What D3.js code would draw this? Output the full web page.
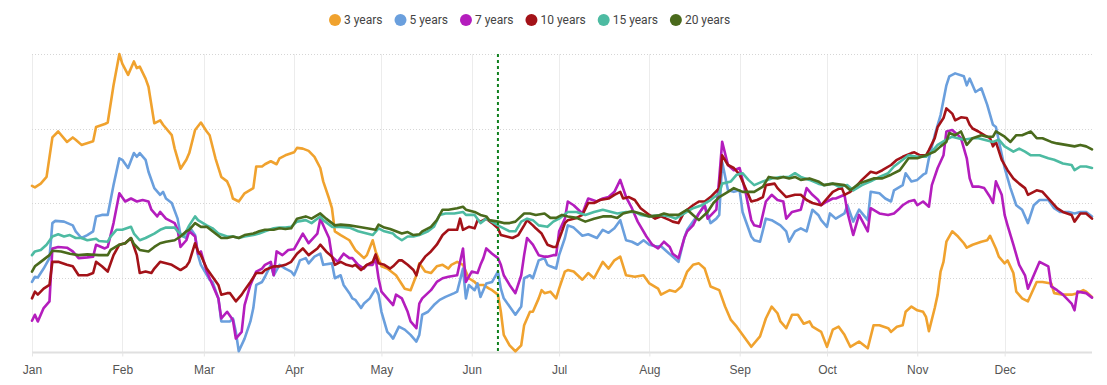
<!DOCTYPE html>
<html>
<head>
<meta charset="utf-8">
<script src="https://cdn.jsdelivr.net/npm/d3@7"></script>
<style>
  html, body { margin: 0; padding: 0; background: #fff; }
  svg { display: block; font-family: Roboto, "Liberation Sans", Arial, sans-serif; }
  .grid-h line { stroke: #d6d6d6; stroke-dasharray: 1 2; }
  .grid-v line { stroke: #ececec; }
  .x-axis path { stroke: #e0e0e0; }
  .x-axis line { stroke: #e6e6e6; }
  .x-axis text { fill: #555; font-size: 12px; }
  .legend text { fill: #444; font-size: 12px; }
</style>
</head>
<body>
<div id="chart"></div>
<script>
// ---- data (day of year 0 = Jan 1, value on a 0–4 scale) ----
var categories = ["3 years", "5 years", "7 years", "10 years", "15 years", "20 years"];
var colors = ["#F0A22E", "#6A9FDD", "#B41DBD", "#A31218", "#4DBBA2", "#4A6A1C"];
var monthLabels = ["Jan", "Feb", "Mar", "Apr", "May", "Jun", "Jul", "Aug", "Sep", "Oct", "Nov", "Dec"];
var markerDay = 160;

var s3y = [[0,2.23],[1,2.21],[3,2.26],[5,2.35],[7,2.88],[9,2.96],[12,2.82],[14,2.88],[15,2.85],[17,2.78],[21,2.83],[22,3.02],[25,3.06],[26,3.08],[28,3.58],[30,4.0],[31,3.87],[33,3.72],[35,3.90],[36,3.81],[37,3.83],[39,3.67],[40,3.56],[42,3.07],[44,3.11],[45,3.05],[48,2.91],[49,2.73],[51,2.46],[53,2.58],[54,2.67],[56,2.98],[58,3.08],[60,2.96],[61,2.91],[63,2.60],[65,2.35],[67,2.29],[68,2.20],[69,2.06],[71,2.02],[73,2.13],[76,2.20],[77,2.49],[79,2.49],[80,2.52],[82,2.56],[84,2.52],[85,2.60],[87,2.64],[90,2.68],[91,2.74],[93,2.73],[95,2.70],[97,2.62],[99,2.47],[100,2.29],[102,2.06],[103,1.93],[104,1.62],[106,1.57],[109,1.50],[111,1.37],[114,1.26],[115,1.30],[117,1.50],[118,1.35],[120,1.15],[122,1.12],[124,1.06],[125,1.03],[128,0.85],[130,0.83],[132,1.03],[133,1.19],[135,1.08],[137,1.06],[139,1.15],[141,1.17],[143,1.12],[144,1.17],[146,1.21],[148,1.17],[150,0.99],[152,0.94],[153,0.90],[155,0.90],[157,0.85],[158,0.83],[160,0.77],[161,0.54],[162,0.23],[164,0.09],[166,0.01],[168,0.09],[169,0.36],[171,0.54],[172,0.54],[174,0.72],[175,0.83],[176,0.79],[178,0.81],[180,0.72],[181,0.85],[183,1.08],[184,1.10],[186,1.08],[189,0.97],[191,1.06],[193,0.99],[196,1.21],[198,1.12],[200,1.23],[202,1.28],[204,1.03],[207,1.01],[210,1.03],[212,0.92],[215,0.85],[216,0.77],[219,0.83],[221,0.81],[223,0.88],[225,1.08],[227,1.17],[229,1.19],[231,1.12],[233,0.88],[236,0.83],[238,0.61],[240,0.43],[242,0.34],[244,0.23],[247,0.07],[250,0.21],[252,0.45],[254,0.61],[256,0.52],[257,0.41],[259,0.32],[261,0.50],[263,0.50],[265,0.38],[267,0.41],[268,0.34],[271,0.27],[273,0.07],[275,0.30],[277,0.34],[279,0.23],[281,0.07],[284,0.14],[287,0.05],[289,0.36],[291,0.36],[294,0.32],[295,0.27],[297,0.34],[299,0.36],[300,0.54],[302,0.61],[304,0.56],[306,0.54],[307,0.47],[308,0.28],[310,0.59],[311,0.77],[312,1.08],[313,1.21],[314,1.48],[316,1.62],[318,1.55],[320,1.46],[321,1.40],[323,1.44],[326,1.48],[328,1.50],[329,1.56],[331,1.39],[332,1.28],[334,1.19],[335,1.23],[337,1.06],[338,0.81],[340,0.72],[342,0.68],[345,0.94],[347,0.94],[350,0.92],[351,0.79],[354,0.77],[357,0.77],[359,0.79],[361,0.83],[362,0.81],[364,0.74]];

var s5y = [[0,0.94],[1,1.01],[2,1.00],[4,1.12],[6,1.26],[7,1.73],[8,1.76],[11,1.75],[14,1.70],[15,1.62],[17,1.53],[19,1.57],[21,1.62],[22,1.82],[24,1.84],[26,1.84],[28,2.24],[30,2.60],[31,2.58],[33,2.47],[35,2.67],[36,2.62],[37,2.67],[39,2.58],[40,2.42],[42,2.20],[44,2.11],[45,2.15],[46,2.06],[48,2.00],[50,1.79],[51,1.57],[53,1.53],[54,1.68],[56,1.57],[57,1.30],[58,1.17],[61,0.97],[62,0.94],[64,0.72],[65,0.41],[68,0.41],[69,0.45],[70,0.27],[71,0.01],[73,0.18],[75,0.41],[76,0.59],[77,0.90],[79,0.94],[80,1.01],[82,1.17],[83,1.03],[85,1.17],[87,1.12],[89,1.08],[90,1.03],[91,1.12],[92,1.23],[94,1.26],[95,1.19],[97,1.28],[99,1.32],[100,1.17],[103,1.19],[104,0.99],[106,1.03],[107,0.90],[109,0.79],[110,0.72],[111,0.70],[113,0.59],[114,0.65],[116,0.72],[118,0.85],[119,0.77],[120,0.54],[122,0.27],[123,0.23],[124,0.18],[126,0.34],[128,0.30],[130,0.23],[132,0.14],[133,0.23],[134,0.50],[136,0.54],[138,0.63],[140,0.70],[142,0.74],[145,0.79],[146,0.81],[148,1.12],[149,0.72],[150,0.90],[152,0.83],[153,0.92],[154,0.74],[156,0.92],[158,0.94],[160,1.08],[161,0.85],[162,0.72],[164,0.61],[166,0.50],[168,0.61],[169,0.99],[171,1.03],[172,0.99],[174,1.23],[176,1.26],[177,1.17],[178,1.15],[180,1.12],[181,1.30],[183,1.53],[184,1.70],[186,1.67],[189,1.56],[191,1.58],[194,1.53],[196,1.64],[198,1.60],[200,1.66],[202,1.77],[204,1.50],[206,1.48],[208,1.44],[210,1.50],[212,1.44],[214,1.42],[216,1.42],[218,1.35],[220,1.28],[222,1.21],[224,1.53],[225,1.64],[227,1.75],[229,1.86],[231,1.97],[233,1.73],[235,1.79],[236,1.84],[237,2.55],[239,2.17],[241,2.15],[243,2.17],[244,1.88],[247,1.55],[248,1.50],[250,1.48],[252,1.79],[254,1.77],[257,1.70],[259,1.62],[260,1.48],[262,1.62],[264,1.66],[266,1.62],[268,1.91],[270,1.84],[271,1.77],[273,1.68],[274,1.86],[276,1.79],[279,1.86],[280,1.97],[282,1.75],[284,1.91],[287,1.77],[288,2.15],[291,2.13],[293,2.06],[295,2.02],[296,2.17],[299,2.24],[300,2.40],[302,2.29],[304,2.31],[306,2.38],[307,2.40],[308,2.60],[310,2.91],[312,3.18],[314,3.58],[315,3.70],[317,3.74],[320,3.70],[321,3.58],[322,3.67],[324,3.49],[326,3.54],[328,3.32],[330,3.05],[331,3.02],[334,2.47],[336,2.20],[338,1.97],[340,1.91],[342,1.73],[344,1.97],[346,2.04],[349,2.04],[351,1.93],[353,1.88],[356,1.88],[358,1.86],[360,1.88],[362,1.88],[364,1.82]];

var s7y = [[0,0.42],[1,0.50],[2,0.41],[4,0.59],[6,0.68],[7,1.39],[9,1.41],[12,1.40],[14,1.35],[16,1.26],[19,1.27],[21,1.28],[22,1.44],[25,1.39],[26,1.41],[28,1.73],[30,2.13],[32,2.02],[34,2.06],[36,2.02],[38,2.04],[40,2.02],[41,1.91],[43,1.82],[44,1.88],[46,1.79],[49,1.73],[50,1.64],[51,1.41],[53,1.50],[54,1.62],[56,1.55],[57,1.32],[58,1.35],[60,1.08],[62,0.90],[64,0.72],[65,0.45],[67,0.54],[69,0.43],[70,0.18],[72,0.27],[73,0.63],[75,0.90],[77,1.08],[79,1.12],[80,1.17],[82,1.21],[83,1.03],[84,1.35],[86,1.30],[88,1.37],[90,1.38],[93,1.59],[95,1.46],[98,1.59],[99,1.79],[100,1.70],[102,1.53],[103,1.28],[105,1.21],[107,1.32],[109,1.26],[110,1.26],[112,1.17],[114,1.12],[115,1.17],[117,1.17],[118,1.26],[119,0.99],[120,0.81],[122,0.72],[124,0.63],[125,0.77],[127,0.72],[129,0.54],[130,0.41],[132,0.32],[133,0.65],[134,0.72],[137,0.83],[139,0.94],[141,0.99],[143,1.01],[146,1.03],[148,1.39],[149,0.94],[151,1.08],[153,1.06],[154,1.17],[155,1.26],[156,1.39],[158,1.32],[160,1.26],[161,1.17],[162,1.03],[164,0.90],[166,0.79],[168,1.03],[169,1.30],[170,1.53],[172,1.44],[174,1.30],[176,1.28],[177,1.28],[179,1.30],[180,1.30],[181,1.62],[183,1.79],[184,2.02],[186,1.97],[189,1.86],[191,2.06],[194,2.02],[196,2.06],[198,2.08],[200,2.15],[202,2.31],[204,2.08],[206,1.93],[208,1.75],[211,1.55],[213,1.44],[215,1.39],[217,1.48],[219,1.41],[220,1.32],[222,1.26],[224,1.53],[225,1.62],[227,1.70],[229,1.86],[231,1.97],[232,1.79],[235,1.91],[236,2.33],[237,2.82],[239,2.51],[241,2.44],[243,2.47],[245,2.15],[247,1.77],[248,1.70],[250,1.68],[252,2.02],[254,2.11],[256,2.04],[258,2.02],[259,1.79],[261,1.88],[264,1.91],[266,2.20],[268,2.11],[270,2.04],[271,1.97],[273,2.02],[275,2.06],[276,2.06],[279,2.11],[280,1.88],[282,1.57],[284,1.84],[287,1.62],[288,1.93],[291,1.86],[294,1.84],[296,1.86],[298,1.93],[299,1.97],[301,2.02],[303,2.04],[304,1.97],[306,2.02],[308,1.95],[309,2.24],[311,2.47],[313,2.64],[314,2.96],[316,2.98],[318,2.91],[319,2.87],[321,2.60],[322,2.33],[323,2.22],[325,2.22],[327,2.20],[329,2.08],[330,2.00],[331,2.29],[333,2.11],[334,1.84],[335,1.70],[337,1.44],[339,1.17],[341,1.03],[342,0.85],[344,1.03],[346,1.21],[347,1.19],[349,1.15],[350,0.88],[352,0.83],[354,0.77],[357,0.65],[358,0.56],[359,0.81],[362,0.79],[364,0.73]];

var s10y = [[0,0.72],[1,0.81],[2,0.77],[4,0.85],[6,0.90],[7,1.21],[9,1.21],[12,1.17],[14,1.15],[16,1.03],[19,1.03],[21,1.06],[22,1.21],[24,1.15],[26,1.08],[28,1.30],[30,1.44],[32,1.46],[34,1.53],[36,1.30],[37,1.06],[39,1.08],[41,1.06],[42,1.12],[44,1.21],[46,1.19],[48,1.17],[51,1.10],[53,1.15],[54,1.21],[56,1.46],[57,1.35],[58,1.30],[60,1.12],[62,1.01],[64,0.90],[65,0.77],[67,0.79],[68,0.79],[70,0.68],[72,0.77],[73,0.83],[75,0.94],[77,1.06],[79,1.06],[80,1.10],[83,1.15],[85,1.15],[87,1.17],[89,1.21],[91,1.32],[93,1.39],[95,1.30],[98,1.39],[99,1.44],[101,1.35],[103,1.28],[104,1.17],[106,1.21],[108,1.17],[110,1.15],[111,1.17],[113,1.10],[115,1.17],[117,1.21],[118,1.31],[119,1.19],[121,1.17],[123,1.12],[124,1.15],[126,1.23],[127,1.23],[129,1.17],[131,1.10],[132,1.03],[133,1.17],[135,1.28],[137,1.35],[139,1.44],[141,1.57],[143,1.64],[146,1.64],[147,1.79],[148,1.64],[150,1.68],[152,1.66],[153,1.77],[154,1.75],[156,1.79],[158,1.73],[160,1.66],[161,1.57],[163,1.55],[165,1.53],[167,1.57],[169,1.70],[170,1.77],[172,1.70],[173,1.66],[175,1.59],[177,1.44],[179,1.41],[180,1.41],[182,1.62],[183,1.73],[184,1.77],[187,1.80],[189,1.84],[191,2.00],[193,2.00],[195,2.04],[198,2.06],[200,2.11],[202,2.15],[203,2.06],[205,2.08],[207,2.04],[209,1.93],[212,1.84],[214,1.79],[216,1.82],[219,1.77],[220,1.75],[222,1.73],[224,1.88],[227,1.97],[229,2.02],[231,2.02],[233,2.08],[236,2.20],[237,2.64],[239,2.51],[241,2.47],[243,2.38],[245,2.20],[247,2.02],[249,2.04],[251,2.08],[252,2.24],[255,2.26],[256,2.20],[259,2.08],[262,2.11],[264,2.11],[266,2.04],[268,2.00],[271,1.97],[273,2.06],[275,2.15],[278,2.21],[279,2.11],[281,2.15],[283,2.22],[285,2.31],[288,2.42],[290,2.40],[292,2.44],[295,2.51],[297,2.58],[299,2.62],[302,2.67],[303,2.68],[305,2.64],[307,2.64],[308,2.71],[310,2.87],[311,3.02],[313,3.14],[314,3.27],[316,3.20],[317,3.11],[319,3.15],[321,3.14],[322,3.05],[323,3.00],[325,2.96],[327,2.91],[329,2.87],[330,2.76],[331,2.82],[333,2.58],[335,2.44],[337,2.33],[339,2.26],[341,2.20],[342,2.11],[345,2.17],[347,2.15],[350,2.02],[352,1.93],[354,1.88],[357,1.84],[358,1.75],[360,1.86],[362,1.86],[364,1.79]];

var s15y = [[0,1.30],[1,1.35],[3,1.37],[5,1.44],[7,1.55],[9,1.58],[11,1.55],[13,1.57],[15,1.53],[17,1.53],[19,1.50],[22,1.52],[23,1.49],[26,1.48],[27,1.55],[29,1.64],[31,1.64],[34,1.68],[35,1.59],[37,1.50],[39,1.53],[42,1.59],[44,1.64],[46,1.67],[49,1.67],[50,1.62],[52,1.55],[54,1.70],[56,1.82],[57,1.77],[60,1.70],[62,1.66],[64,1.59],[67,1.55],[69,1.55],[71,1.53],[73,1.55],[76,1.57],[78,1.59],[80,1.62],[83,1.66],[85,1.67],[87,1.67],[89,1.68],[91,1.75],[94,1.77],[96,1.73],[99,1.82],[100,1.77],[103,1.68],[106,1.68],[109,1.67],[112,1.62],[115,1.59],[117,1.57],[119,1.66],[121,1.62],[124,1.59],[125,1.55],[127,1.50],[129,1.55],[131,1.55],[133,1.57],[136,1.62],[138,1.68],[140,1.84],[142,1.86],[145,1.86],[148,1.88],[149,1.84],[152,1.84],[154,1.73],[156,1.79],[157,1.77],[160,1.70],[162,1.66],[164,1.62],[166,1.62],[168,1.75],[170,1.79],[172,1.77],[174,1.70],[177,1.68],[179,1.75],[181,1.79],[184,1.88],[187,1.88],[190,1.84],[193,1.88],[196,1.91],[199,1.88],[201,1.86],[204,1.88],[207,1.88],[209,1.84],[212,1.82],[216,1.84],[219,1.82],[221,1.79],[224,1.86],[227,1.93],[230,1.97],[233,2.04],[236,2.13],[237,2.26],[240,2.29],[242,2.38],[244,2.40],[246,2.31],[248,2.24],[251,2.29],[254,2.33],[257,2.35],[260,2.35],[262,2.40],[264,2.35],[267,2.31],[270,2.26],[272,2.24],[275,2.26],[277,2.22],[280,2.24],[282,2.17],[285,2.24],[288,2.29],[291,2.35],[294,2.40],[296,2.49],[299,2.58],[301,2.64],[304,2.62],[307,2.62],[309,2.69],[311,2.78],[314,2.85],[316,2.89],[318,2.87],[320,2.85],[323,2.87],[325,2.87],[327,2.85],[330,2.82],[332,2.85],[334,2.76],[337,2.69],[339,2.73],[341,2.69],[343,2.64],[346,2.64],[349,2.60],[351,2.58],[354,2.53],[357,2.51],[358,2.44],[360,2.49],[362,2.49],[364,2.47]];

var s20y = [[0,1.08],[1,1.15],[3,1.21],[6,1.30],[7,1.36],[10,1.35],[13,1.32],[16,1.30],[19,1.31],[23,1.30],[26,1.30],[27,1.37],[30,1.44],[32,1.46],[34,1.53],[35,1.45],[37,1.37],[40,1.35],[42,1.41],[44,1.46],[46,1.48],[49,1.50],[51,1.55],[53,1.62],[54,1.64],[56,1.73],[58,1.68],[60,1.68],[62,1.62],[65,1.53],[67,1.53],[69,1.55],[71,1.53],[73,1.57],[76,1.59],[78,1.62],[80,1.64],[83,1.64],[85,1.66],[87,1.65],[89,1.66],[91,1.79],[94,1.82],[96,1.79],[99,1.86],[101,1.79],[104,1.70],[106,1.71],[109,1.70],[112,1.68],[115,1.66],[118,1.64],[119,1.71],[121,1.67],[123,1.65],[125,1.62],[127,1.59],[129,1.61],[131,1.57],[133,1.58],[134,1.62],[137,1.68],[139,1.77],[141,1.91],[143,1.91],[146,1.93],[148,1.95],[149,1.91],[152,1.88],[154,1.84],[156,1.82],[157,1.77],[160,1.75],[162,1.73],[164,1.73],[166,1.75],[169,1.86],[171,1.86],[173,1.84],[176,1.86],[178,1.80],[180,1.80],[182,1.84],[184,1.82],[187,1.80],[190,1.75],[193,1.79],[196,1.82],[199,1.82],[201,1.80],[203,1.86],[206,1.89],[209,1.86],[212,1.82],[215,1.83],[217,1.86],[219,1.84],[222,1.84],[225,1.91],[227,1.84],[229,1.77],[232,1.88],[234,2.00],[236,2.08],[239,2.15],[241,2.20],[244,2.15],[246,2.15],[248,2.15],[251,2.22],[253,2.35],[256,2.33],[258,2.35],[260,2.33],[262,2.35],[264,2.31],[267,2.33],[270,2.29],[272,2.24],[275,2.26],[279,2.24],[281,2.17],[284,2.26],[286,2.29],[289,2.33],[292,2.33],[295,2.38],[298,2.44],[301,2.60],[304,2.60],[307,2.64],[310,2.69],[312,2.76],[314,2.82],[315,2.94],[317,2.91],[319,2.96],[321,2.78],[323,2.87],[326,2.91],[328,2.89],[330,2.89],[331,2.96],[334,2.89],[336,2.82],[338,2.91],[340,2.91],[343,2.96],[345,2.87],[347,2.87],[350,2.82],[352,2.80],[355,2.78],[358,2.76],[360,2.78],[362,2.76],[364,2.72]];

var seriesValues = [s3y, s5y, s7y, s10y, s15y, s20y];

// ---- layout ----
var W = 1107, H = 385;
var M = { left: 32, right: 15, top: 54, bottom: 33 };
var YEAR = 2023;
function dayDate(d) { return new Date(YEAR, 0, 1 + d); }

var svg = d3.select("#chart").append("svg").attr("width", W).attr("height", H);

var x = d3.scaleTime()
  .domain([dayDate(0), dayDate(364)])
  .range([M.left, W - M.right]);
var y = d3.scaleLinear()
  .domain([0, 4])
  .range([H - M.bottom, M.top]);

var monthStarts = d3.range(12).map(function (m) { return new Date(YEAR, m, 1); });

// vertical grid at month starts
svg.append("g").attr("class", "grid-v")
  .selectAll("line").data(monthStarts).enter().append("line")
  .attr("x1", function (d) { return Math.round(x(d)) + 0.5; })
  .attr("x2", function (d) { return Math.round(x(d)) + 0.5; })
  .attr("y1", y(4)).attr("y2", y(0));

// horizontal dotted grid
svg.append("g").attr("class", "grid-h")
  .selectAll("line").data([1, 2, 3, 4]).enter().append("line")
  .attr("x1", x.range()[0]).attr("x2", x.range()[1])
  .attr("y1", function (d) { return Math.round(y(d)) + 0.5; })
  .attr("y2", function (d) { return Math.round(y(d)) + 0.5; });

// x axis
var xAxis = d3.axisBottom(x)
  .tickValues(monthStarts)
  .tickSize(4)
  .tickPadding(9)
  .tickFormat(function (d, i) { return monthLabels[i]; });
var gx = svg.append("g").attr("class", "x-axis")
  .attr("transform", "translate(0," + (Math.round(y(0)) + 0.5) + ")")
  .call(xAxis);
gx.select(".domain").attr("d", "M" + x.range()[0] + ",0H" + x.range()[1]).attr("stroke-width", 2);

// lines
var line = d3.line()
  .x(function (p) { return x(dayDate(p[0])); })
  .y(function (p) { return y(p[1]); });

svg.append("g").selectAll("path").data(seriesValues).enter().append("path")
  .attr("d", line)
  .attr("fill", "none")
  .attr("stroke", function (d, i) { return colors[i]; })
  .attr("stroke-width", 2.6)
  .attr("stroke-linejoin", "round")
  .attr("stroke-linecap", "round");

// event marker
var mx = x(dayDate(markerDay));
svg.append("line")
  .attr("x1", mx).attr("x2", mx)
  .attr("y1", y(4)).attr("y2", y(0))
  .attr("stroke", "#11801e").attr("stroke-width", 2)
  .attr("stroke-dasharray", "3 3");

// legend
var lg = svg.append("g").attr("class", "legend").attr("transform", "translate(0,20)");
var lx = 329;
categories.forEach(function (name, i) {
  var g = lg.append("g").attr("transform", "translate(" + lx + ",0)");
  g.append("circle").attr("cx", 6).attr("cy", 0).attr("r", 6).attr("fill", colors[i]);
  var t = g.append("text").attr("x", 15).attr("dy", "0.35em").text(name);
  lx += 15 + t.node().getComputedTextLength() + 12;
});
</script>
</body>
</html>
